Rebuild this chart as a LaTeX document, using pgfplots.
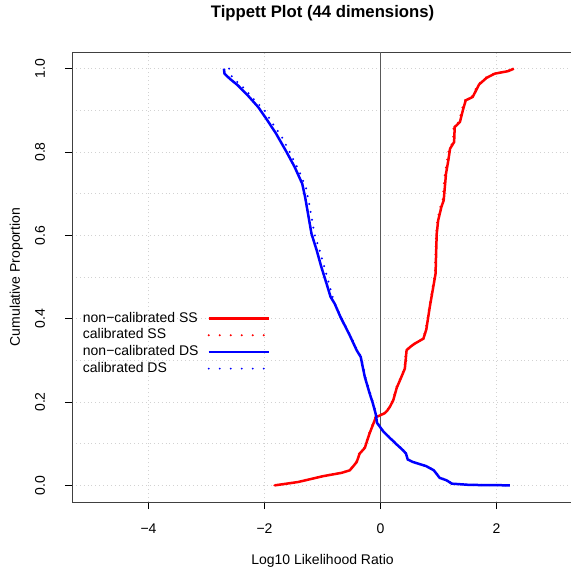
\documentclass[border=0pt]{standalone}
\usepackage{fontspec}
\setmainfont{Liberation Sans}
\usepackage{pgfplots}
\pgfplotsset{compat=1.18}
\definecolor{rred}{rgb}{1,0,0}
\definecolor{rblue}{rgb}{0,0,1}
\newcommand\fs{\fontsize{14}{17}\selectfont}

\begin{document}
\begin{tikzpicture}
\begin{axis}[
  scale only axis,
  width=501pt, height=450pt,
  xmin=-5.32, xmax=3.32,
  ymin=-0.04, ymax=1.04,
  xtick={-4,-2,0,2},
  xticklabels={−4,−2,0,2},
  ytick={0,0.2,0.4,0.6,0.8,1.0},
  yticklabels={0.0,0.2,0.4,0.6,0.8,1.0},
  minor ytick={0.1,0.3,0.5,0.7,0.9},
  xtick pos=bottom, ytick pos=left,
  tick align=outside,
  major tick length=7pt, minor tick length=0pt,
  tick style={black, line width=0.8pt},
  axis line style={black!75, line width=0.9pt},
  grid=both,
  major grid style={gray!35, line width=0.8pt, dash pattern=on 0.9pt off 3pt},
  minor grid style={gray!35, line width=0.8pt, dash pattern=on 0.9pt off 3pt},
  tick label style={font=\fs},
  xticklabel style={anchor=base},
  xticklabel shift=24pt,
  yticklabel style={rotate=90, anchor=base},
  yticklabel shift=20pt,
  title={Tippett Plot (44 dimensions)},
  title style={at={(0.5,1)}, anchor=base, yshift=28pt, font=\bfseries\fontsize{16.7}{20}\selectfont},
  xlabel={Log10 Likelihood Ratio},
  xlabel style={at={(0.5,0)}, anchor=base, yshift=-63pt, font=\fs},
  ylabel={Cumulative Proportion},
  ylabel style={at={(0,0.5)}, rotate=0, anchor=base, yshift=52pt, font=\fs},
  legend plot pos=right,
  legend style={at={(0.0214,0.4267)}, anchor=north west, draw=none, fill=none,
    inner sep=0pt, row sep=0pt, column sep=9pt, font=\fs,
    nodes={inner sep=0pt, text height=12pt, text depth=4.7pt}},
  legend cell align=left,
  legend image code/.code={\draw[#1] (0pt,0pt) -- (60pt,0pt);},
]
\coordinate (sw) at (rel axis cs:0,0);

% vertical reference line at zero
\addplot[black!65, line width=1.2pt, forget plot] coordinates {(0,-0.04) (0,1.04)};

% non-calibrated SS
\addplot[rred, line width=2.5pt] coordinates {
(-1.82,0.000) (-1.42,0.008) (-0.99,0.022) (-0.67,0.030) (-0.53,0.036) (-0.48,0.044)
(-0.41,0.056) (-0.36,0.076) (-0.27,0.090) (-0.19,0.124) (-0.10,0.156) (-0.08,0.164)
(-0.02,0.167) (0.07,0.173) (0.12,0.180) (0.16,0.188) (0.22,0.204) (0.28,0.234)
(0.36,0.260) (0.42,0.280) (0.45,0.324) (0.51,0.332) (0.59,0.340) (0.74,0.352)
(0.79,0.374) (0.85,0.428) (0.91,0.476) (0.95,0.508) (0.96,0.560) (0.97,0.604)
(0.995,0.636) (1.05,0.668) (1.09,0.684) (1.13,0.748) (1.17,0.780) (1.20,0.808)
(1.27,0.824) (1.28,0.860) (1.37,0.872) (1.42,0.900) (1.47,0.924) (1.59,0.932)
(1.70,0.962) (1.83,0.978) (1.97,0.988) (2.20,0.994) (2.30,1.000)
};
\addlegendentry{non−calibrated SS}

% calibrated SS
\addplot[rred, line width=2.2pt, line cap=round, dash pattern=on 0pt off 8pt,
  legend image post style={dash pattern=on 0pt off 11pt}] coordinates {
(-1.83,0.000) (-1.43,0.008) (-1.00,0.022) (-0.68,0.030) (-0.54,0.036) (-0.49,0.044)
(-0.42,0.056) (-0.37,0.076) (-0.28,0.090) (-0.20,0.124) (-0.11,0.156) (-0.09,0.164)
(-0.03,0.167) (0.06,0.173) (0.11,0.180) (0.15,0.188) (0.21,0.204) (0.27,0.234)
(0.35,0.260) (0.41,0.280) (0.44,0.324) (0.50,0.332) (0.58,0.340) (0.73,0.352)
(0.78,0.374) (0.84,0.428) (0.90,0.476) (0.94,0.508) (0.95,0.560) (0.96,0.604)
(0.98,0.636) (1.03,0.668) (1.07,0.684) (1.11,0.748) (1.15,0.780) (1.18,0.808)
(1.25,0.824) (1.26,0.860) (1.35,0.872) (1.40,0.900) (1.45,0.924) (1.57,0.932)
(1.68,0.962) (1.81,0.978) (1.95,0.988) (2.18,0.994) (2.29,1.000)
};
\addlegendentry{calibrated SS}

% non-calibrated DS
\addplot[rblue, line width=2.5pt] coordinates {
(-2.70,1.000) (-2.69,0.988) (-2.60,0.976) (-2.46,0.960) (-2.29,0.936) (-2.11,0.908)
(-1.97,0.880) (-1.80,0.844) (-1.62,0.800) (-1.48,0.764) (-1.35,0.724) (-1.30,0.692)
(-1.25,0.652) (-1.19,0.604) (-1.10,0.564) (-1.02,0.524) (-0.93,0.484) (-0.86,0.452)
(-0.79,0.436) (-0.69,0.404) (-0.53,0.360) (-0.41,0.324) (-0.34,0.308) (-0.30,0.280)
(-0.27,0.260) (-0.19,0.222) (-0.13,0.196) (-0.08,0.170) (-0.06,0.150) (0.045,0.130)
(0.16,0.114) (0.28,0.098) (0.39,0.084) (0.44,0.076) (0.47,0.062) (0.56,0.056)
(0.79,0.046) (0.92,0.036) (1.02,0.018) (1.14,0.012) (1.23,0.004) (1.54,0.001)
(2.23,0.000)
};
\addlegendentry{non−calibrated DS}

% calibrated DS
\addplot[rblue, line width=2.2pt, line cap=round, dash pattern=on 0pt off 8pt,
  legend image post style={dash pattern=on 0pt off 11pt}] coordinates {
(-2.61,1.000) (-2.56,0.980) (-2.36,0.954) (-2.18,0.926) (-2.00,0.900) (-1.86,0.868)
(-1.71,0.838) (-1.58,0.804) (-1.39,0.750) (-1.28,0.712) (-1.22,0.668) (-1.19,0.644)
(-1.14,0.604) (-1.05,0.564) (-0.96,0.520) (-0.88,0.480) (-0.80,0.440) (-0.68,0.404)
(-0.52,0.360) (-0.40,0.324) (-0.33,0.308) (-0.29,0.280) (-0.26,0.260) (-0.18,0.222)
(-0.12,0.196) (-0.07,0.170) (-0.05,0.150) (0.05,0.130) (0.17,0.114) (0.29,0.098)
(0.40,0.084) (0.45,0.076) (0.48,0.062) (0.57,0.056) (0.80,0.046) (0.93,0.036)
(1.03,0.018) (1.15,0.012) (1.24,0.004) (1.55,0.001) (2.23,0.000)
};
\addlegendentry{calibrated DS}
\end{axis}
\pgfresetboundingbox
\useasboundingbox (sw) ++(-72pt,-66pt) rectangle ++(571pt,568pt);
\end{tikzpicture}
\end{document}
